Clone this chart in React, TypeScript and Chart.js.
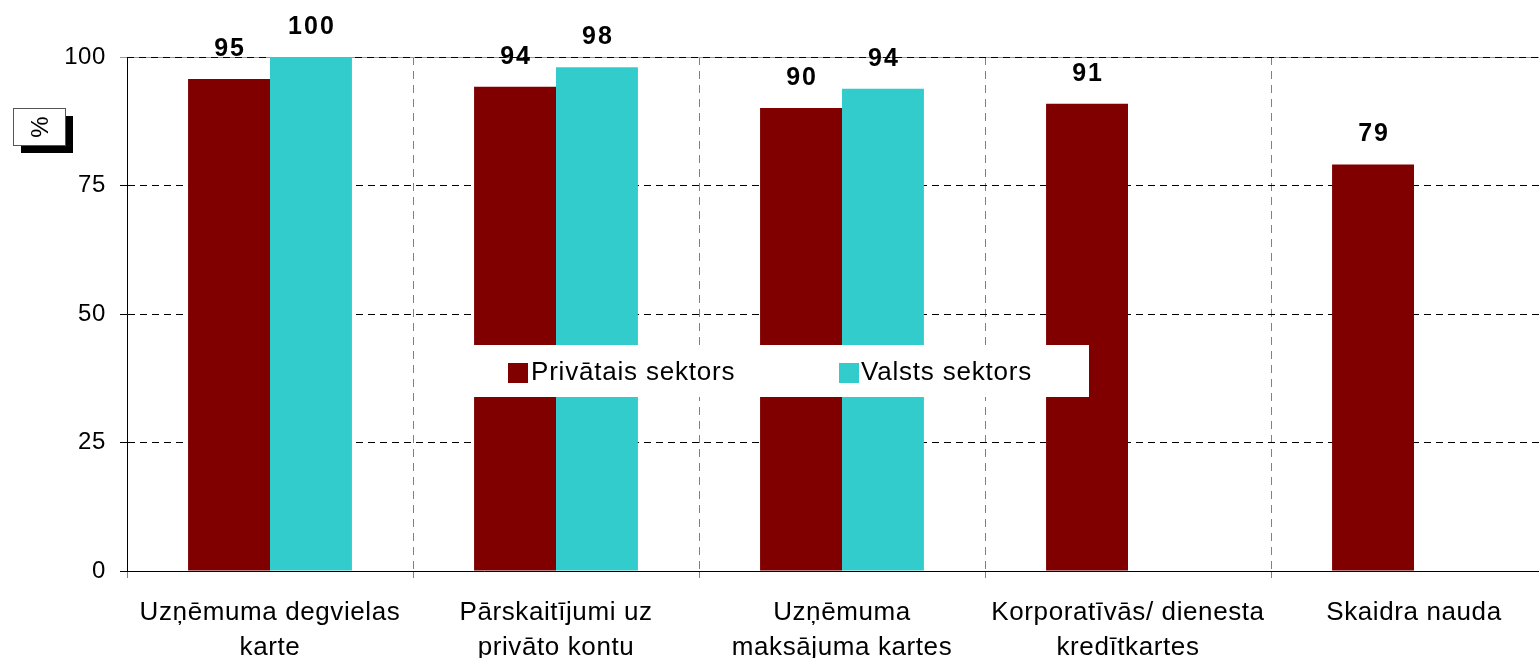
import React, { useEffect, useRef } from "react";
import { Chart, registerables } from "chart.js";

Chart.register(...registerables);

const categories: string[][] = [
  ["Uzņēmuma degvielas", "karte"],
  ["Pārskaitījumi uz", "privāto kontu"],
  ["Uzņēmuma", "maksājuma kartes"],
  ["Korporatīvās/ dienesta", "kredītkartes"],
  ["Skaidra nauda"],
];
const seriesNames = ["Privātais sektors", "Valsts sektors"];
const privateValues: (number | null)[] = [95.7, 94.2, 90.1, 90.9, 79.1];
const publicValues: (number | null)[] = [100, 98, 93.8, null, null];
const privateLabels = ["95", "94", "90", "91", "79"];
const publicLabels = ["100", "98", "94", "", ""];
const yTicks = [0, 25, 50, 75, 100];
const axisTitle = "%";
const seriesColors = ["#800000", "#33CCCC"];

const FONT = "'Liberation Sans', Arial, Helvetica, sans-serif";

export default function App() {
  const ref = useRef<HTMLCanvasElement | null>(null);

  useEffect(() => {
    const canvas = ref.current;
    if (!canvas) return;
    Chart.defaults.font.family = FONT;
    Chart.defaults.color = "#000";

    const labelsPlugin = {
      id: "valueLabels",
      afterDatasetsDraw(chart: any) {
        const ctx = chart.ctx;
        const lbls = [privateLabels, publicLabels];
        ctx.save();
        ctx.font = `bold 25px ${FONT}`;
        (ctx as any).letterSpacing = "2px";
        ctx.fillStyle = "#000";
        ctx.textAlign = "center";
        ctx.textBaseline = "alphabetic";
        chart.data.datasets.forEach((ds: any, di: number) => {
          const meta = chart.getDatasetMeta(di);
          meta.data.forEach((bar: any, i: number) => {
            if (ds.data[i] == null) return;
            ctx.fillText(lbls[di][i], bar.x + 1, bar.y - 23);
          });
        });
        ctx.restore();
      },
    };

    const legendPlugin = {
      id: "boxLegend",
      afterDatasetsDraw(chart: any) {
        const ctx = chart.ctx;
        ctx.save();
        ctx.fillStyle = "#fff";
        ctx.fillRect(472, 345, 617, 52);
        const items = [
          { x: 508, tx: 531 },
          { x: 839, tx: 861 },
        ];
        ctx.font = `26px ${FONT}`;
        (ctx as any).letterSpacing = "0.8px";
        ctx.textAlign = "left";
        ctx.textBaseline = "alphabetic";
        chart.data.datasets.forEach((ds: any, i: number) => {
          ctx.fillStyle = ds.backgroundColor;
          ctx.fillRect(items[i].x, 363, 20, 20);
          ctx.fillStyle = "#000";
          ctx.fillText(ds.label, items[i].tx, 380);
        });
        ctx.restore();
      },
    };

    const decoPlugin = {
      id: "deco",
      beforeDraw(chart: any) {
        const ctx = chart.ctx;
        ctx.fillStyle = "#fff";
        ctx.fillRect(0, 0, chart.width, chart.height);
        (ctx as any).letterSpacing = "0.6px";
      },
      afterDraw(chart: any) {
        const ctx = chart.ctx;
        ctx.save();
        (ctx as any).letterSpacing = "0px";
        // axis title box with shadow
        ctx.fillStyle = "#000";
        ctx.fillRect(21, 116, 52, 37);
        ctx.fillStyle = "#fff";
        ctx.fillRect(13, 108, 53, 38);
        ctx.strokeStyle = "#555";
        ctx.lineWidth = 1;
        ctx.strokeRect(13.5, 108.5, 52, 37);
        ctx.translate(40, 127);
        ctx.rotate(-Math.PI / 2);
        ctx.font = `24px ${FONT}`;
        ctx.fillStyle = "#000";
        ctx.textAlign = "center";
        ctx.textBaseline = "middle";
        ctx.fillText(axisTitle, 0, 1);
        ctx.restore();
      },
      beforeDatasetsDraw(chart: any) {
        const ctx = chart.ctx;
        const a = chart.chartArea;
        ctx.save();
        ctx.strokeStyle = "#9a9a9a";
        ctx.lineWidth = 1;
        ctx.beginPath();
        ctx.moveTo(a.left - 7, a.top + 0.5);
        ctx.lineTo(a.right, a.top + 0.5);
        ctx.stroke();
        ctx.strokeStyle = "#000";
        ctx.setLineDash([7, 5]);
        ctx.beginPath();
        ctx.moveTo(a.left, a.top + 0.5);
        ctx.lineTo(a.right, a.top + 0.5);
        ctx.stroke();
        ctx.restore();
      },
    };

    const chart = new Chart(canvas, {
      type: "bar",
      data: {
        labels: categories,
        datasets: [
          {
            label: seriesNames[0],
            data: privateValues,
            backgroundColor: seriesColors[0],
            borderWidth: 0,
          },
          {
            label: seriesNames[1],
            data: publicValues,
            backgroundColor: seriesColors[1],
            borderWidth: 0,
          },
        ],
      },
      options: {
        responsive: false,
        animation: false,
        devicePixelRatio: 1,
        layout: { padding: { left: 0, right: 3, top: 57, bottom: 0 } },
        datasets: {
          bar: { categoryPercentage: 0.573, barPercentage: 1 },
        },
        plugins: {
          legend: { display: false },
          tooltip: { enabled: false },
          title: { display: false },
        },
        scales: {
          x: {
            offset: true,
            grid: {
              display: true,
              offset: true,
              color: "#808080",
              lineWidth: 1,
              drawTicks: true,
              tickLength: 7,
              tickColor: "#808080",
              tickBorderDash: [],
            },
            border: { display: true, color: "#000", width: 1, dash: [8, 6] } as any,
            ticks: {
              color: "#000",
              font: { size: 26, lineHeight: 1.35 },
              padding: 17,
              maxRotation: 0,
              autoSkip: false,
            },
            afterFit(scale: any) {
              scale.height = 87;
            },
          },
          y: {
            min: 0,
            max: 100,
            afterBuildTicks(scale: any) {
              scale.ticks = yTicks.map((v) => ({ value: v }));
            },
            grid: {
              color: "#000",
              lineWidth: 1,
              drawTicks: true,
              tickLength: 7,
              tickColor: "#000",
              tickBorderDash: [],
            },
            border: { display: true, color: "#000", width: 1, dash: [7, 5] } as any,
            ticks: {
              color: "#000",
              font: { size: 24 },
              padding: 14,
            },
            afterFit(scale: any) {
              scale.width = 127;
            },
          },
        },
      },
      plugins: [decoPlugin, labelsPlugin, legendPlugin],
    } as any);

    return () => chart.destroy();
  }, []);

  return (
    <div
      style={{
        position: "fixed",
        left: 0,
        top: 0,
        width: 1539,
        height: 658,
        overflow: "hidden",
        background: "#fff",
      }}
    >
      <canvas
        ref={ref}
        width={1560}
        height={658}
        style={{ width: 1560, height: 658, display: "block" }}
      />
    </div>
  );
}
